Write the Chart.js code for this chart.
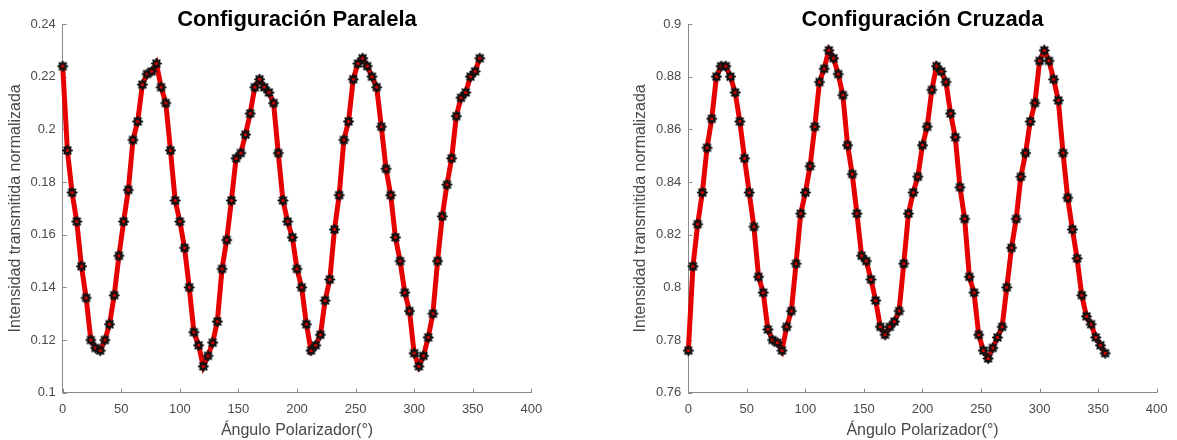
<!DOCTYPE html>
<html lang="es">
<head>
<meta charset="utf-8">
<title>Configuración Paralela / Cruzada</title>
<script src="https://cdn.jsdelivr.net/npm/chart.js@4.4.1/dist/chart.umd.min.js"></script>
<style>
  html, body { margin: 0; padding: 0; background: #fff; }
  #wrap { position: relative; width: 1177px; height: 440px; }
  .panel { position: absolute; top: 0; height: 440px; }
  #p1 { left: 0; width: 590px; }
  #p2 { left: 590px; width: 587px; }
</style>
</head>
<body>
<div id="wrap">
  <div class="panel" id="p1"><canvas id="chartParalela"></canvas></div>
  <div class="panel" id="p2"><canvas id="chartCruzada"></canvas></div>
</div>
<script>
// Ángulo del polarizador (°)
const angulos = [
  0, 4, 8, 12, 16, 20, 24, 28, 32, 36, 40, 44, 48, 52, 56, 60, 64, 68, 72, 76,
  80, 84, 88, 92, 96, 100, 104, 108, 112, 116, 120, 124, 128, 132, 136, 140, 144, 148, 152, 156,
  160, 164, 168, 172, 176, 180, 184, 188, 192, 196, 200, 204, 208, 212, 216, 220, 224, 228, 232, 236,
  240, 244, 248, 252, 256, 260, 264, 268, 272, 276, 280, 284, 288, 292, 296, 300, 304, 308, 312, 316,
  320, 324, 328, 332, 336, 340, 344, 348, 352, 356
];

// Intensidad transmitida normalizada - configuración paralela
const intensidadParalela = [
  0.224, 0.192, 0.176, 0.165, 0.148, 0.136, 0.120, 0.117, 0.116, 0.120,
  0.126, 0.137, 0.152, 0.165, 0.177, 0.196, 0.203, 0.217, 0.221, 0.222,
  0.225, 0.216, 0.210, 0.192, 0.173, 0.165, 0.155, 0.140, 0.123, 0.118,
  0.110, 0.114, 0.119, 0.127, 0.147, 0.158, 0.173, 0.189, 0.191, 0.198,
  0.206, 0.216, 0.219, 0.216, 0.214, 0.210, 0.191, 0.173, 0.165, 0.159,
  0.147, 0.140, 0.126, 0.116, 0.118, 0.122, 0.135, 0.143, 0.162, 0.175,
  0.196, 0.203, 0.219, 0.225, 0.227, 0.224, 0.220, 0.216, 0.201, 0.185,
  0.175, 0.159, 0.150, 0.138, 0.131, 0.115, 0.110, 0.114, 0.121, 0.130,
  0.150, 0.167, 0.179, 0.189, 0.205, 0.212, 0.214, 0.220, 0.222, 0.227
];

// Intensidad transmitida normalizada - configuración cruzada
const intensidadCruzada = [
  0.776, 0.808, 0.824, 0.836, 0.853, 0.864, 0.880, 0.884, 0.884, 0.880,
  0.874, 0.863, 0.849, 0.836, 0.823, 0.804, 0.798, 0.784, 0.780, 0.779,
  0.776, 0.785, 0.791, 0.809, 0.828, 0.836, 0.846, 0.861, 0.878, 0.883,
  0.890, 0.887, 0.881, 0.873, 0.854, 0.843, 0.828, 0.812, 0.810, 0.803,
  0.795, 0.785, 0.782, 0.785, 0.787, 0.791, 0.809, 0.828, 0.836, 0.842,
  0.854, 0.861, 0.875, 0.884, 0.882, 0.878, 0.866, 0.857, 0.838, 0.826,
  0.804, 0.798, 0.782, 0.776, 0.773, 0.777, 0.781, 0.785, 0.800, 0.815,
  0.826, 0.842, 0.851, 0.863, 0.870, 0.886, 0.890, 0.886, 0.879, 0.871,
  0.851, 0.834, 0.822, 0.811, 0.797, 0.789, 0.786, 0.781, 0.778, 0.775
];

// Marcas de los ejes
const ticksAngulo = [0, 50, 100, 150, 200, 250, 300, 350, 400];
const ticksParalela = [0.1, 0.12, 0.14, 0.16, 0.18, 0.2, 0.22, 0.24];
const ticksCruzada = [0.76, 0.78, 0.8, 0.82, 0.84, 0.86, 0.88, 0.9];

const FUENTE = "'Liberation Sans', Arial, Helvetica, sans-serif";
const GRIS_TEXTO = '#4a4a4a';
const GRIS_EJE = '#8a8a8a';
const ROJO = '#e60000';

Chart.defaults.font.family = FUENTE;
Chart.defaults.color = GRIS_TEXTO;

// marcador tipo asterisco de MATLAB (negro con centro rojo)
function marcador() {
    const c = document.createElement('canvas');
    c.width = 13; c.height = 13;
    const g = c.getContext('2d');
    g.translate(6.5, 6.5);
    g.strokeStyle = '#111';
    g.lineWidth = 1.6;
    g.beginPath();
    for (let k = 0; k < 8; k++) {
        const a = k * Math.PI / 4;
        g.moveTo(0, 0);
        g.lineTo(5.5 * Math.cos(a), 5.5 * Math.sin(a));
    }
    g.stroke();
    g.lineWidth = 2;
    g.beginPath(); g.arc(0, 0, 3.3, 0, 2 * Math.PI); g.stroke();
    g.fillStyle = ROJO;
    g.beginPath(); g.arc(0, 0, 1.6, 0, 2 * Math.PI); g.fill();
    return c;
}
const asterisco = marcador();

// ticks hacia adentro, como en MATLAB
const ticksInternos = {
    id: 'ticksInternos',
    beforeDatasetsDraw(chart) {
        const { ctx, chartArea: a, scales: { x, y } } = chart;
        ctx.save();
        ctx.strokeStyle = GRIS_EJE;
        ctx.lineWidth = 1;
        ctx.beginPath();
        x.ticks.forEach(t => {
            const px = Math.round(x.getPixelForValue(t.value)) + 0.5;
            ctx.moveTo(px, a.bottom);
            ctx.lineTo(px, a.bottom - 4);
        });
        y.ticks.forEach(t => {
            const py = Math.round(y.getPixelForValue(t.value)) + 0.5;
            ctx.moveTo(a.left, py);
            ctx.lineTo(a.left + 4, py);
        });
        ctx.stroke();
        ctx.restore();
    }
};

// 0.10 -> "0.1", 0.20 -> "0.2" (formato MATLAB)
const formatoCorto = v => String(Number(v.toFixed(3)));

function crearGrafico(id, titulo, valores, ticksY, padIzq, padDer, anchoY) {
    const ctx = document.getElementById(id).getContext('2d');
    return new Chart(ctx, {
        type: 'line',
        data: {
            datasets: [{
                label: titulo,
                data: angulos.map((a, i) => ({ x: a, y: valores[i] })),
                borderColor: ROJO,
                borderWidth: 5,
                tension: 0,
                fill: false,
                clip: false,
                pointStyle: asterisco,
                pointRadius: 6,
                pointHoverRadius: 6
            }]
        },
        options: {
            responsive: true,
            maintainAspectRatio: false,
            animation: false,
            layout: { padding: { left: padIzq, right: padDer, top: 0, bottom: 0 } },
            plugins: {
                legend: { display: false },
                tooltip: { enabled: false },
                title: {
                    display: true,
                    text: titulo,
                    fullSize: false,
                    color: '#000',
                    font: { size: 22, weight: 'bold', family: FUENTE, lineHeight: 1.2 },
                    padding: { top: 7, bottom: -9.4 }
                }
            },
            scales: {
                x: {
                    type: 'linear',
                    min: 0,
                    max: 400,
                    afterBuildTicks: s => { s.ticks = ticksAngulo.map(v => ({ value: v })); },
                    afterFit: s => { s.height = 47.3; },
                    grid: { display: true, drawOnChartArea: false, drawTicks: false },
                    border: { display: true, color: GRIS_EJE, width: 1 },
                    ticks: { padding: 9, font: { size: 13 }, color: GRIS_TEXTO, maxRotation: 0, callback: formatoCorto },
                    title: {
                        display: true,
                        text: 'Ángulo Polarizador(°)',
                        color: GRIS_TEXTO,
                        font: { size: 16 },
                        padding: { top: 0, bottom: 0 }
                    }
                },
                y: {
                    type: 'linear',
                    min: ticksY[0],
                    max: ticksY[ticksY.length - 1],
                    afterBuildTicks: s => { s.ticks = ticksY.map(v => ({ value: v })); },
                    afterFit: s => { s.width = anchoY; },
                    grid: { display: true, drawOnChartArea: false, drawTicks: false },
                    border: { display: true, color: GRIS_EJE, width: 1 },
                    ticks: { padding: 7, font: { size: 13 }, color: GRIS_TEXTO, callback: formatoCorto },
                    title: {
                        display: true,
                        text: 'Intensidad transmitida normalizada',
                        color: GRIS_TEXTO,
                        font: { size: 16 },
                        padding: { top: 6, bottom: 0 }
                    }
                }
            }
        },
        plugins: [ticksInternos]
    });
}

document.addEventListener('DOMContentLoaded', () => {
    crearGrafico('chartParalela', 'Configuración Paralela', intensidadParalela, ticksParalela, 0, 58.7, 62.7);
    crearGrafico('chartCruzada', 'Configuración Cruzada', intensidadCruzada, ticksCruzada, 35.4, 20.3, 62.9);
});
</script>
</body>
</html>
